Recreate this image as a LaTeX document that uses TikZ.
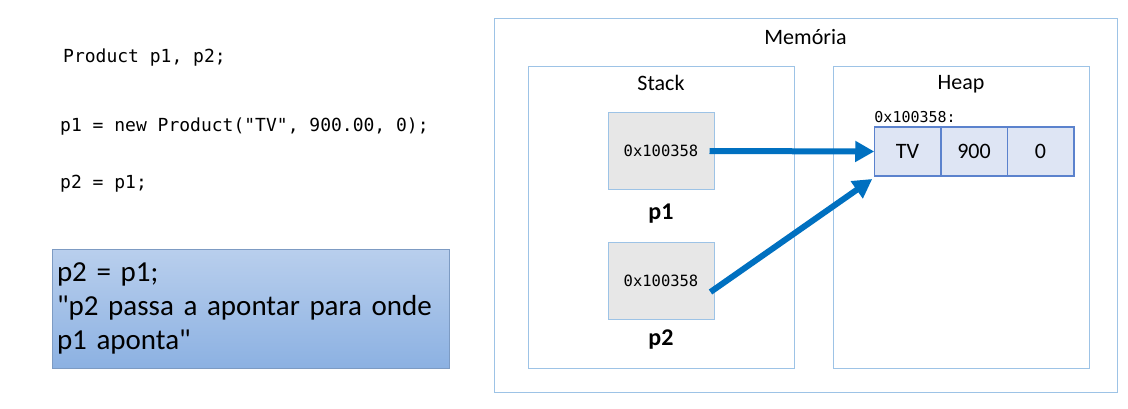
\documentclass[tikz,border=0pt]{standalone}
\usepackage{fontspec}
\setmainfont{Carlito}[Ligatures=TeXOff]
\setmonofont{DejaVu Sans Mono}
\usepackage{tikz}
\usetikzlibrary{arrows.meta,positioning}
\definecolor{frameblue}{RGB}{157,195,230}
\definecolor{cellblue}{RGB}{91,130,205}
\definecolor{cellfill}{RGB}{222,229,244}
\definecolor{boxgray}{RGB}{231,231,231}
\definecolor{arrowblue}{RGB}{0,112,192}
\definecolor{notetop}{RGB}{185,207,237}
\definecolor{notebot}{RGB}{140,177,226}
\definecolor{noteline}{RGB}{125,155,195}
\tikzstyle{region} = [draw=frameblue, line width=1pt, inner sep=0pt, outer sep=0pt]
\tikzstyle{var} = [draw=frameblue, line width=1pt, fill=boxgray, minimum width=106pt, minimum height=77pt, font=\ttfamily\fontsize{15.5}{18}\selectfont]
\tikzstyle{cell} = [draw=cellblue, line width=1.5pt, fill=cellfill, minimum width=66.5pt, minimum height=49pt, inner sep=0pt, outer sep=0pt, font=\fontsize{22}{26}\selectfont]
\tikzstyle{heading} = [font=\fontsize{22}{26}\selectfont]
\tikzstyle{varname} = [font=\bfseries\fontsize{24}{28}\selectfont]
\tikzstyle{code} = [anchor=west, inner sep=0pt, font=\ttfamily\fontsize{18}{22}\selectfont]
\tikzstyle{note} = [draw=noteline, line width=0.8pt, top color=notetop, bottom color=notebot, minimum width=397pt, minimum height=119pt, text width=387pt, align=left, inner sep=5pt, font=\fontsize{29}{34}\selectfont]
\tikzstyle{tedge} = [draw=arrowblue, line width=6pt, -{Triangle[length=19pt,width=20pt]}]

\begin{document}
\begin{tikzpicture}[x=1pt, y=-1pt]
\useasboundingbox (0,0) rectangle (1128,409);

% code =============================
\node[code] (decl) at (63,58) {Product p1, p2;};
\node[code] (inst) at (60,127) {p1 = new Product("TV", 900.00, 0);};
\node[code] (assign) at (60,184) {p2 = p1;};
\node[note] (remark) at (250.5,308.5) {p2 = p1;\\"p2 passa a apontar para onde\\p1 aponta"};

% memory ===========================
\node[region, minimum width=623pt, minimum height=373pt] (memory) at (805.5,205.5) {};
\node[heading, below=7pt of memory.north] (memlabel) {Memória};
\node[region, minimum width=266pt, minimum height=301pt] (stack) at (661,217.5) {};
\node[heading, below=5pt of stack.north] (stacklabel) {Stack};
\node[region, minimum width=256pt, minimum height=301pt] (heap) at (961,217.5) {};
\node[heading, below=5pt of heap.north] (heaplabel) {Heap};

% nodes
\node[var] (p1box) at (661,151) {0x100358};
\node[varname, below=10pt of p1box] (p1name) {p1};
\node[var] (p2box) at (661,281) {0x100358};
\node[varname, below=6pt of p2box] (p2name) {p2};
\node[cell] (cTV) at (907.5,151.5) {TV};
\node[cell, right=0pt of cTV] (c900) {900};
\node[cell, right=0pt of c900] (czero) {0};
\node[font=\ttfamily\fontsize{15}{18}\selectfont, anchor=south west, inner sep=4pt, xshift=-4pt] (addr) at (cTV.north west) {0x100358:};

% edges
\path[tedge] ([xshift=-5pt]p1box.east) -- (cTV.west);
\path[tedge] ([xshift=-4pt,yshift=-11pt]p2box.east) -- ([xshift=-2pt,yshift=-3pt]cTV.south west);

\end{tikzpicture}
\end{document}
